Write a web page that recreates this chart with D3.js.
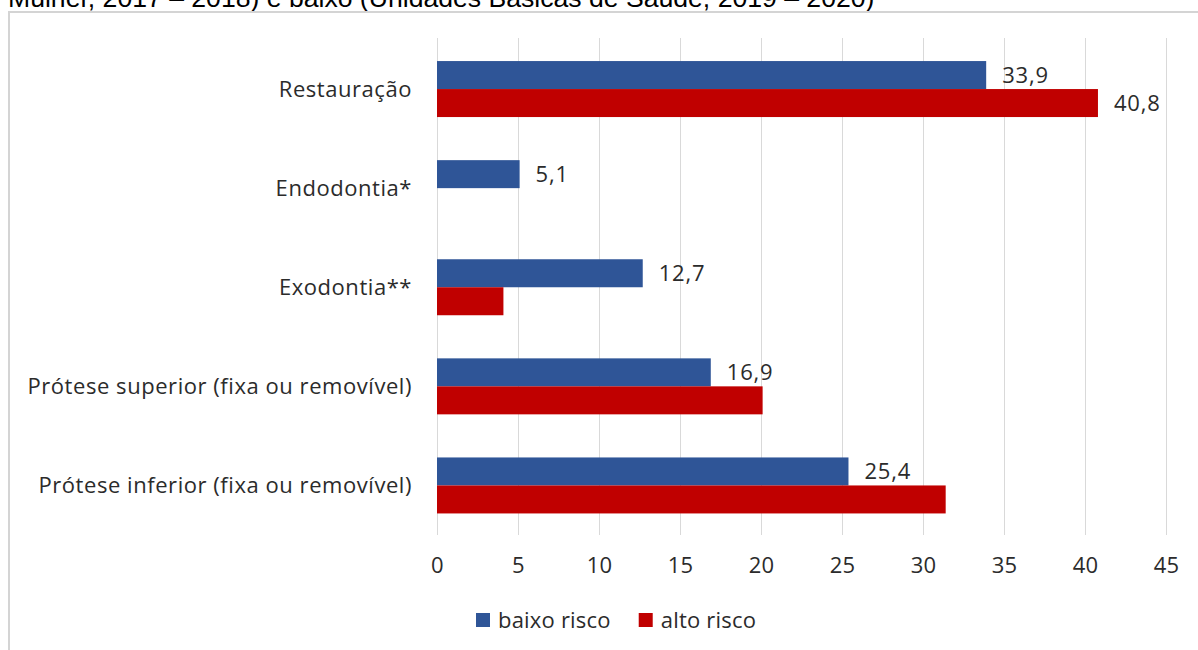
<!DOCTYPE html>
<html>
<head>
<meta charset="utf-8">
<script src="https://cdn.jsdelivr.net/npm/d3@7"></script>
<style>
  html, body { margin: 0; padding: 0; background: #ffffff; }
  svg { display: block; }
</style>
</head>
<body>
<svg id="chart" width="1198" height="650"></svg>
<script>
// ---- data ----
const titleText = "Mulher, 2017 – 2018) e baixo (Unidades Básicas de Saúde, 2019 – 2020)";
const categories = [
  "Restauração",
  "Endodontia*",
  "Exodontia**",
  "Prótese superior (fixa ou removível)",
  "Prótese inferior (fixa ou removível)"
];
const seriesNames = ["baixo risco", "alto risco"];
const baixoRisco = [33.9, 5.1, 12.7, 16.9, 25.4];
const altoRisco = [40.8, null, 4.1, 20.1, 31.4];
const baixoRiscoLabeled = [true, true, true, true, true];
const altoRiscoLabeled = [true, false, false, false, false];
const xTicks = [0, 5, 10, 15, 20, 25, 30, 35, 40, 45];

// ---- styles ----
const colors = ["#2F5597", "#C00000"];
const textColor = "#2b2b2b";
const gridColor = "#d9d9d9";
const fontFamily = "'Open Sans', sans-serif";
const fontSize = 22;

const svg = d3.select("#chart");

// partially visible caption above the frame (cut off at the top, as in the reference)
svg.append("text")
  .attr("x", 8).attr("y", 7)
  .attr("font-family", "'Liberation Sans', Arial, sans-serif")
  .attr("font-size", 26.6)
  .attr("fill", "#000")
  .text(titleText);

// chart frame (top & left edges visible)
svg.append("path")
  .attr("d", "M9,650 V12 H1198")
  .attr("fill", "none")
  .attr("stroke", "#d4d4d4")
  .attr("stroke-width", 2);

// scales
const x = d3.scaleLinear().domain([0, 45]).range([437, 1166]);
const y = d3.scaleBand().domain(categories).range([39.5, 535])
  .paddingInner(0.435).paddingOuter(0.2175);
const ySub = d3.scaleBand().domain(seriesNames).range([0, y.bandwidth()]);

// gridlines
const grid = svg.append("g");
grid.selectAll("line").data(xTicks).join("line")
  .attr("x1", d => Math.round(x(d)) + 0.5).attr("x2", d => Math.round(x(d)) + 0.5)
  .attr("y1", 38).attr("y2", 535)
  .attr("stroke", gridColor).attr("stroke-width", 1);

// x axis labels via d3 axis
const xAxis = d3.axisBottom(x).tickValues(xTicks).tickSize(0).tickPadding(0).tickFormat(d3.format("d"));
const gx = svg.append("g").attr("transform", "translate(0,573)").call(xAxis);
gx.select(".domain").remove();
gx.selectAll("text")
  .attr("dy", 0).attr("y", 0)
  .attr("font-family", fontFamily).attr("font-size", fontSize).attr("fill", textColor)
  .attr("letter-spacing", 0.3);

// y axis labels via d3 axis
const yAxis = d3.axisLeft(y).tickSize(0).tickPadding(0);
const gy = svg.append("g").attr("transform", "translate(412,0)").call(yAxis);
gy.select(".domain").remove();
gy.selectAll("text")
  .attr("x", 0).attr("dy", "0.35em")
  .attr("font-family", fontFamily).attr("font-size", fontSize).attr("fill", textColor)
  .attr("letter-spacing", 0.55);

// bars
const seriesValues = [baixoRisco, altoRisco];
const seriesLabeled = [baixoRiscoLabeled, altoRiscoLabeled];
const fmt = v => d3.format(".1f")(v).replace(".", ",");

seriesNames.forEach((name, si) => {
  const data = categories.map((c, i) => ({ c, v: seriesValues[si][i], lab: seriesLabeled[si][i] }))
    .filter(d => d.v !== null);
  const g = svg.append("g");
  g.selectAll("rect").data(data).join("rect")
    .attr("x", x(0))
    .attr("y", d => y(d.c) + ySub(name))
    .attr("width", d => x(d.v) - x(0))
    .attr("height", ySub.bandwidth())
    .attr("fill", colors[si]);
  g.selectAll("text").data(data.filter(d => d.lab)).join("text")
    .attr("x", d => x(d.v) + 16)
    .attr("y", d => y(d.c) + ySub(name) + ySub.bandwidth() / 2)
    .attr("dy", "0.35em")
    .attr("font-family", fontFamily).attr("font-size", fontSize).attr("fill", textColor)
    .attr("letter-spacing", 0.8)
    .text(d => fmt(d.v));
});

// legend
const legend = svg.append("g");
let lx = 476;
const ly = 620;
seriesNames.forEach((name, si) => {
  legend.append("rect")
    .attr("x", lx).attr("y", ly - 7).attr("width", 14).attr("height", 14)
    .attr("fill", colors[si]);
  const t = legend.append("text")
    .attr("x", lx + 22).attr("y", ly).attr("dy", "0.35em")
    .attr("font-family", fontFamily).attr("font-size", fontSize).attr("fill", textColor)
    .attr("letter-spacing", 0.2)
    .text(name);
  lx = lx + 22 + t.node().getComputedTextLength() + 28;
});
</script>
</body>
</html>
